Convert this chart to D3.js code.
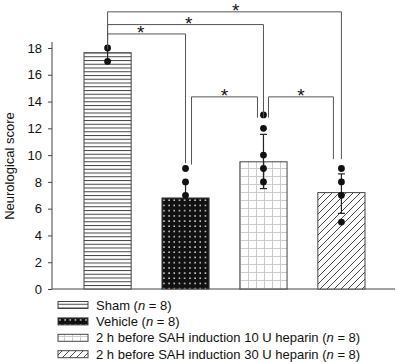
<!DOCTYPE html>
<html><head><meta charset="utf-8">
<script src="https://cdn.jsdelivr.net/npm/d3@7"></script>
<style>body{margin:0;background:#fff}svg{display:block;font-family:"Liberation Sans",Arial,sans-serif}</style>
</head><body><svg id="c" width="397" height="362"></svg>
<script>
const groups = ["Sham", "Vehicle", "10U", "30U"];
const means = [17.65, 6.8, 9.5, 7.2];
const errHi = [18, 8, 11.55, 8.6];
const errLo = [17, 6.8, 7.5, 5.65];
const points = [[18, 17], [9, 8, 7], [13, 12, 10, 9, 8], [9, 8, 7, 5]];
const yTicks = [0, 2, 4, 6, 8, 10, 12, 14, 16, 18];
const legendLabels = [
  ["Sham (", "n", " = 8)"],
  ["Vehicle (", "n", " = 8)"],
  ["2 h before SAH induction 10 U heparin (", "n", " = 8)"],
  ["2 h before SAH induction 30 U heparin (", "n", " = 8)"]
];
const brackets = [
  {a: 0, b: 3, y: 20.7, ya: 17.9, yb: 9.7},
  {a: 0, b: 2, y: 19.75, ya: 17.9, yb: 12.8},
  {a: 0, b: 1, y: 19.05, ya: 18.6, yb: 9.4},
  {a: 1, b: 2, y: 14.35, ya: 9.3, yb: 12.8, offA: 6, offB: -6},
  {a: 2, b: 3, y: 14.35, ya: 12.8, yb: 9.7, offA: 5, offB: -8}
];

const svg = d3.select("#c");
const y = d3.scaleLinear().domain([0, 18]).range([289, 48]);
const x = d3.scaleBand().domain(groups).range([84, 365]).paddingInner(0.395).paddingOuter(0);

const defs = svg.append("defs");
const p0 = defs.append("pattern").attr("id", "p0").attr("patternUnits", "userSpaceOnUse").attr("width", 8).attr("height", 3.75);
p0.append("rect").attr("width", 8).attr("height", 3.75).attr("fill", "#fff");
p0.append("line").attr("x1", 0).attr("x2", 8).attr("y1", 0.5).attr("y2", 0.5).attr("stroke", "#444").attr("stroke-width", 1);
const p1 = defs.append("pattern").attr("id", "p1").attr("patternUnits", "userSpaceOnUse").attr("width", 5.2).attr("height", 5.2);
p1.append("rect").attr("width", 5.2).attr("height", 5.2).attr("fill", "#111");
p1.append("rect").attr("x", 2).attr("y", 2).attr("width", 1.4).attr("height", 1.4).attr("fill", "#fff");
const p2 = defs.append("pattern").attr("id", "p2").attr("patternUnits", "userSpaceOnUse").attr("width", 8).attr("height", 8);
p2.append("rect").attr("width", 8).attr("height", 8).attr("fill", "#fff");
p2.append("path").attr("d", "M0,0.5H8M0.5,0V8").attr("stroke", "#ccc").attr("stroke-width", 1);
const p3 = defs.append("pattern").attr("id", "p3").attr("patternUnits", "userSpaceOnUse").attr("width", 7).attr("height", 7);
p3.append("rect").attr("width", 7).attr("height", 7).attr("fill", "#fff");
p3.append("path").attr("d", "M-1,8L8,-1M-1,1L1,-1M6,8L8,6").attr("stroke", "#333").attr("stroke-width", 0.9);
const fills = ["url(#p0)", "url(#p1)", "url(#p2)", "url(#p3)"];

const yAxis = svg.append("g").attr("transform", "translate(52,0)")
  .call(d3.axisLeft(y).tickValues(yTicks).tickSize(4).tickPadding(6));
yAxis.select(".domain").attr("d", `M0,${y(18) - 6}V289`).attr("stroke", "#444");
yAxis.selectAll(".tick line").attr("stroke", "#444");
yAxis.selectAll("text").attr("font-size", 13).attr("fill", "#111").attr("font-family", "Liberation Sans, Arial, sans-serif");
svg.append("line").attr("x1", 52).attr("x2", 395).attr("y1", 289).attr("y2", 289).attr("stroke", "#444");

svg.append("text").attr("transform", "translate(14,166) rotate(-90)").attr("text-anchor", "middle")
  .attr("font-size", 13).attr("fill", "#111").text("Neurological score");

svg.selectAll(".bar").data(groups).enter().append("rect")
  .attr("x", d => x(d)).attr("width", x.bandwidth())
  .attr("y", (d, i) => y(means[i])).attr("height", (d, i) => 289 - y(means[i]))
  .attr("fill", (d, i) => fills[i]).attr("stroke", "#444").attr("stroke-width", 1);

const cx = i => x(groups[i]) + x.bandwidth() / 2;
groups.forEach((g, i) => {
  svg.append("line").attr("x1", cx(i)).attr("x2", cx(i)).attr("y1", y(errHi[i])).attr("y2", y(errLo[i])).attr("stroke", "#222").attr("stroke-width", 1.2);
  [errHi[i], errLo[i]].forEach(v => {
    if (v !== means[i] && i > 0) svg.append("line").attr("x1", cx(i) - 3.5).attr("x2", cx(i) + 3.5).attr("y1", y(v)).attr("y2", y(v)).attr("stroke", "#222").attr("stroke-width", 1.2);
  });
  points[i].forEach(v => {
    svg.append("circle").attr("cx", cx(i)).attr("cy", y(v)).attr("r", 3.4).attr("fill", "#111");
  });
});

brackets.forEach(b => {
  const xa = cx(b.a) + (b.offA || 0), xb = cx(b.b) + (b.offB || 0);
  svg.append("path").attr("d", `M${xa},${y(b.ya)}V${y(b.y)}H${xb}V${y(b.yb)}`)
    .attr("fill", "none").attr("stroke", "#555").attr("stroke-width", 1);
  const sx = b.a === 0 ? (b.b === 1 ? xa + 33 : b.b === 2 ? xa + 81 : xa + 128) : (xa + xb) / 2;
  svg.append("text").attr("x", sx).attr("y", y(b.y) + 5).attr("text-anchor", "middle")
    .attr("font-size", 19).attr("fill", "#111").text("*");
});

const lg = svg.append("g");
legendLabels.forEach((lab, i) => {
  const yy = 305 + i * 16.4;
  lg.append("rect").attr("x", 58).attr("y", yy - 3.5).attr("width", 30).attr("height", 7)
    .attr("fill", fills[i]).attr("stroke", "#444").attr("stroke-width", 1);
  const t = lg.append("text").attr("x", 96).attr("y", yy + 4.5).attr("font-size", 13).attr("fill", "#111");
  t.append("tspan").text(lab[0]);
  t.append("tspan").attr("font-style", "italic").text(lab[1]);
  t.append("tspan").text(lab[2]);
});
</script></body></html>
